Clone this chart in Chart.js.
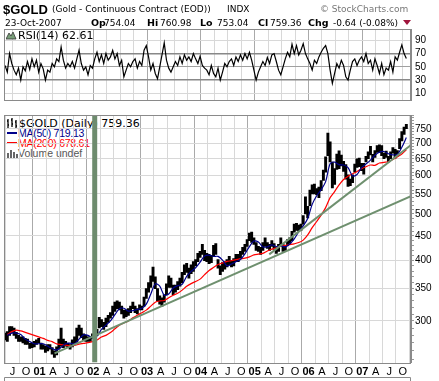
<!DOCTYPE html>
<html><head><meta charset="utf-8">
<script src="https://cdn.jsdelivr.net/npm/chart.js@4.4.0/dist/chart.umd.min.js"></script>
<style>
html,body{margin:0;padding:0;background:#fff;width:439px;height:381px;overflow:hidden;position:relative;font-family:"DejaVu Sans",sans-serif;}
.t{position:absolute;white-space:nowrap;line-height:1;color:#000;}
.c{position:absolute;left:0;top:0;}
.h{font-size:9px;}
.hb{font-size:9.5px;font-weight:bold;}
.lg{font-size:11px;}
.lg2{font-size:10.5px;font-family:'Liberation Sans',sans-serif;letter-spacing:-0.25px;}
</style></head><body>
<div class="c" style="width:439px;height:110px"><canvas id="rsi"></canvas></div>

<svg style="position:absolute;left:6px;top:118px" width="12" height="11"><path d="M2 1v9M1 3h1M2 7h1M6 0v9M5 2h1M6 6h1M10 2v8M9 4h1M10 8h1" stroke="#000" stroke-width="1.3" fill="none"/></svg>
<div class="t lg" style="left:19px;top:118px">$GOLD (Daily) 759.36</div>
<div style="position:absolute;left:7px;top:132px;width:10px;height:2px;background:#00008b"></div>
<div class="t lg2" style="left:18px;top:128px;color:#00008b">MA(50) 719.13</div>
<div style="position:absolute;left:7px;top:142px;width:10px;height:2px;background:#ff0000"></div>
<div class="t lg2" style="left:18px;top:138px;color:#ff0000">MA(200) 678.61</div>
<svg style="position:absolute;left:7px;top:148px" width="11" height="10"><path d="M1 10V5M4 10V2M7 10V4M10 10V6" stroke="#666" stroke-width="2"/></svg>
<div class="t lg2" style="left:18px;top:148px;color:#555;letter-spacing:0">Volume undef</div>

<div class="c" style="width:439px;height:381px"><canvas id="price"></canvas></div>

<div class="t" style="left:3px;top:2px;font:bold 13px 'Liberation Sans',sans-serif">$GOLD</div>
<div class="t h" style="left:52px;top:4.5px">(Gold - Continuous Contract (EOD))</div>
<div class="t h" style="left:227px;top:4.5px">INDX</div>
<div class="t h" style="left:320px;top:4.5px;color:#777">© StockCharts.com</div>
<div class="t h" style="left:5px;top:18.5px">23-Oct-2007</div>
<div class="t hb" style="left:91px;top:18px">Op</div>
<div class="t h" style="left:104px;top:18.5px">754.04</div>
<div class="t hb" style="left:147px;top:18px">Hi</div>
<div class="t h" style="left:160px;top:18.5px">760.98</div>
<div class="t hb" style="left:200px;top:18px">Lo</div>
<div class="t h" style="left:217px;top:18.5px">753.04</div>
<div class="t hb" style="left:258px;top:18px">Cl</div>
<div class="t h" style="left:270px;top:18.5px">759.36</div>
<div class="t hb" style="left:308px;top:18px">Chg</div>
<div class="t h" style="left:333px;top:18.5px">-0.64 (-0.08%)</div>
<svg style="position:absolute;left:403px;top:20px" width="9" height="6"><polygon points="0,0 8,0 4,5" fill="#a0143c"/></svg>

<svg style="position:absolute;left:6px;top:31px" width="11" height="9"><polygon points="0,8 3,2 5,5 7,1 10,8" fill="#7a9f7a" stroke="#333" stroke-width="0.8"/></svg>
<div class="t lg" style="left:18px;top:30px">RSI(14) 62.61</div>

<script>
// ---------- data ----------
// one bar every half month, first bar ~ mid May 2000, last ~ late Oct 2007 (decimal years)
const firstPeriod = 2000.36;
const periodStep = 1 / 24;
const xMin = 2000.34, xMax = 2007.905;

const lows = [
 274,272, 280,284, 280,276, 272,272, 270,268, 268,263, 264,265, 268,270,
 262,262, 258,260, 262,256, 252,255, 262,266, 264,266, 264,262, 265,270, 271,280, 277,274, 272,272, 272,276,
 278,280, 290,292, 288,292, 298,304, 308,314, 318,316, 310,304, 306,308, 312,318, 312,310, 316,316, 322,334,
 344,352, 362,350, 330,325, 322,328, 340,352, 352,340, 344,348, 354,360, 374,378, 368,376, 380,390, 398,406,
 412,400, 398,394, 396,408, 412,386, 374,380, 384,388, 392,388, 390,398, 398,404, 412,418, 428,440, 436,432,
 420,418, 412,420, 428,424, 420,428, 422,414, 418,432, 418,420, 430,434, 440,458, 462,460, 462,476, 500,490,
 520,550, 550,548, 540,558, 586,610, 660,640, 566,575, 618,620, 628,612, 590,570, 572,580, 610,624, 626,614,
 604,640, 650,662, 640,654, 670,670, 660,650, 654,640, 650,668, 652,658, 682,708, 730,750
];
const highs = [
 283,285, 292,292, 290,284, 280,278, 278,276, 275,270, 270,272, 274,276,
 270,268, 266,268, 268,264, 260,265, 275,290, 275,272, 270,268, 274,278, 290,294, 290,282, 280,278, 278,282,
 286,288, 305,302, 298,304, 308,312, 322,328, 330,328, 322,316, 316,318, 322,328, 322,318, 324,322, 336,350,
 360,372, 388,370, 350,338, 335,340, 358,372, 368,356, 356,362, 368,378, 392,395, 386,392, 398,402, 414,418,
 432,420, 414,412, 410,430, 434,402, 390,396, 398,402, 408,400, 404,412, 412,418, 426,432, 442,456, 458,446,
 436,428, 426,436, 446,436, 432,440, 434,426, 432,446, 432,430, 442,446, 460,476, 478,474, 476,496, 542,518,
 560,574, 576,564, 568,586, 616,656, 735,705, 640,620, 665,675, 662,642, 632,602, 590,602, 634,650, 652,636,
 636,658, 672,690, 664,676, 692,695, 692,668, 674,658, 672,686, 680,676, 716,740, 756,766
];
// monthly moving averages (end of month), May 2000 .. Oct 2007
const ma50 = [
 280,283,283,281,275,272,269,269,
 269,266,263,261,264.5,269,269.7,269,275,280.6,280,276.6,
 279,288,294,300,309,318,318.6,314.4,315,317,318.6,325,
 341,358,354,339,341,351,355,357,371,380,386.5,397,
 409,410.6,408,408,401,390,393.6,398,402,413,427.6,439,
 437,427,427,431,427.6,429,427,433,443.6,459,472,489,
 523,545,561,583,635,640,632,631,623,599,603,623,
 634,646,661,671,673,666,662,664,687,719.13
];
const ma200 = [
 281,285,287,286,284,282,280,278,
 276,273.3,271.8,268.9,268,267.3,266.6,266.9,268.5,269.4,270.4,271.8,
 273.9,277.8,280,283.7,288.9,294,296.9,300,304.4,308.3,311.9,315.8,
 321.9,328,330,330.7,335,339,342.4,347.4,353.9,358.4,362,366.1,
 374.1,381.5,387,392.5,395.7,398.5,399.7,401.8,403.3,404.6,407.2,411,
 412.5,414,418.8,422.5,425.2,428.3,430,431.6,433.3,435.9,441,452,
 468,482,497,515,540,556,574,589,598,605,612,620,
 626,631,630,637,639,641,648,656,665,678.61
];
// RSI(14), one value per half month
const rsi = [
 52,42,70,55,45,38,48,30,50,44,
 58,46,62,50,60,42,55,47,30,45,
 42,55,50,62,58,80,60,48,55,50,
 58,48,62,75,55,45,50,38,52,48,
 62,72,58,68,55,70,60,65,75,62,
 70,52,60,35,45,55,50,58,62,48,
 58,52,75,82,65,45,55,40,32,50,
 68,86,60,48,42,50,58,52,65,55,
 68,60,65,58,70,62,55,66,52,48,
 45,38,52,40,35,48,30,42,55,50,
 58,62,52,65,58,68,60,70,62,72,
 60,45,30,42,50,58,52,64,55,68,
 70,58,45,38,50,62,72,65,84,70,
 82,68,75,85,70,62,55,45,60,55,
 65,72,78,82,70,45,25,40,55,48,
 60,52,35,30,45,58,62,52,60,65,
 58,70,55,60,45,62,52,40,55,38,
 48,45,58,42,65,60,72,83,70,62.61
];
// trend lines: [decimal year, price]
const trendLow = [[2001.279, 257], [2007.905, 544]];
const trendHigh = [[2005.27, 412], [2007.905, 694]];
const markerYear = 2002.026;
const priceTicks = [300,350,400,450,500,550,600,650,700,750];
const rsiTicks = [10,30,50,70,90];
const quarterLetters = ['', 'A', 'J', 'O'];

// ---------- helpers ----------
const periodX = i => firstPeriod + i * periodStep;
const monthX = j => firstPeriod + (2 * j + 1) * periodStep;
const isYear = v => Math.abs(v - Math.round(v)) < 1e-6;
function quarterTicks(scale) {
  const t = [];
  for (let y = 2000; y <= 2008; y++) for (let q = 0; q < 4; q++) {
    const v = y + q / 4;
    if (v >= xMin && v <= xMax) t.push({ value: v });
  }
  scale.ticks = t;
}
function quarterLabel(v) {
  const y = Math.floor(v + 1e-6), q = Math.round((v - y) * 4);
  return q === 0 ? String(y % 100).padStart(2, '0') : quarterLetters[q];
}
const gridX = ctx => (ctx.tick && isYear(ctx.tick.value)) ? '#aaaaaa' : '#d8d8d8';
const frame = {
  id: 'frame',
  afterDraw(chart) {
    const a = chart.chartArea, c = chart.ctx;
    c.save(); c.strokeStyle = '#8a8a8a'; c.lineWidth = 1;
    c.strokeRect(Math.round(a.left) + 0.5, Math.round(a.top) + 0.5,
      Math.round(a.right - a.left) - 1, Math.round(a.bottom - a.top));
    if (chart.canvas.id === 'price') {
      c.beginPath(); c.moveTo(a.left + 0.5, 381); c.lineTo(a.left + 0.5, 377.5);
      c.lineTo(a.right - 0.5, 377.5); c.lineTo(a.right - 0.5, 381); c.stroke();
    }
    c.restore();
  }
};

Chart.defaults.font.family = "'Liberation Sans', sans-serif";
Chart.defaults.color = '#000';
Chart.defaults.animation = false;

// ---------- RSI panel ----------
new Chart(document.getElementById('rsi'), {
  type: 'line',
  data: { datasets: [{
    data: rsi.map((v, i) => ({ x: periodX(i), y: v })),
    borderColor: '#000', borderWidth: 1.2, pointRadius: 0, tension: 0
  }]},
  options: {
    responsive: true, maintainAspectRatio: false,
    layout: { padding: { top: 29, left: 4, right: 0, bottom: 0 } },
    plugins: { legend: { display: false }, tooltip: { enabled: false } },
    scales: {
      x: { type: 'linear', min: xMin, max: xMax, offset: false,
        afterBuildTicks: quarterTicks, afterFit: s => { s.height = 2; },
        ticks: { display: false, autoSkip: false },
        grid: { color: gridX, drawTicks: false }, border: { display: false } },
      y: { position: 'right', min: 0, max: 107,
        afterBuildTicks: s => { s.ticks = rsiTicks.map(v => ({ value: v })); },
        afterFit: s => { s.width = 28; },
        ticks: { padding: 4, font: { size: 10 }, callback: v => String(v) },
        grid: { drawTicks: false,
          color: c => (c.tick && (c.tick.value === 30 || c.tick.value === 70)) ? '#888' :
                      (c.tick && c.tick.value === 50) ? '#a0a0a0' : '#d8d8d8',
          lineWidth: c => (c.tick && (c.tick.value === 30 || c.tick.value === 70)) ? 1.6 : 1 },
        border: { color: '#8a8a8a' } }
    }
  },
  plugins: [frame]
});

// ---------- price panel ----------
const minorTicks = [];
for (let v = 250; v <= 800; v += 10) minorTicks.push(v);
new Chart(document.getElementById('price'), {
  type: 'bar',
  data: { datasets: [
    { type: 'line', data: [{ x: markerYear, y: 246 }, { x: markerYear, y: 801 }],
      borderColor: '#6e8c6e', borderWidth: 5, pointRadius: 0, borderCapStyle: 'butt' },
    { type: 'line', data: trendHigh.map(p => ({ x: p[0], y: p[1] })),
      borderColor: '#6f906f', borderWidth: 2, pointRadius: 0 },
    { type: 'line', data: trendLow.map(p => ({ x: p[0], y: p[1] })),
      borderColor: '#6f906f', borderWidth: 2, pointRadius: 0 },
    { type: 'line', data: ma50.map((v, j) => ({ x: monthX(j), y: v })),
      borderColor: '#00008b', borderWidth: 1.2, pointRadius: 0, tension: 0.3 },
    { type: 'line', data: ma200.map((v, j) => ({ x: monthX(j), y: v })),
      borderColor: '#ff0000', borderWidth: 1.2, pointRadius: 0, tension: 0.3 },
    { type: 'bar', data: lows.map((lo, i) => ({ x: periodX(i), y: [lo, highs[i]] })),
      backgroundColor: '#000', borderWidth: 0, barThickness: 2.25, grouped: false }
  ]},
  options: {
    responsive: true, maintainAspectRatio: false,
    layout: { padding: { top: 115, left: 4, right: 0, bottom: 0 } },
    plugins: { legend: { display: false }, tooltip: { enabled: false } },
    scales: {
      x: { type: 'linear', min: xMin, max: xMax, offset: false,
        afterBuildTicks: quarterTicks, afterFit: s => { s.height = 18.5; },
        ticks: { autoSkip: false, maxRotation: 0, padding: 3, callback: v => quarterLabel(v),
          font: c => ({ size: 11, weight: (c.tick && isYear(c.tick.value)) ? 'bold' : 'normal' }) },
        grid: { color: gridX, drawTicks: false }, border: { display: false } },
      y: { type: 'logarithmic', position: 'right', min: 246, max: 801,
        afterBuildTicks: s => { s.ticks = minorTicks.map(v => ({ value: v })); },
        afterFit: s => { s.width = 28; },
        ticks: { padding: 1, autoSkip: false, font: { size: 10 },
          callback: v => priceTicks.includes(v) ? String(v) : '' },
        grid: { tickLength: 3, tickColor: '#999',
          color: c => (c.tick && priceTicks.includes(c.tick.value)) ? '#d8d8d8' : 'rgba(0,0,0,0)' },
        border: { color: '#8a8a8a' } }
    }
  },
  plugins: [frame]
});
</script>
</body></html>
